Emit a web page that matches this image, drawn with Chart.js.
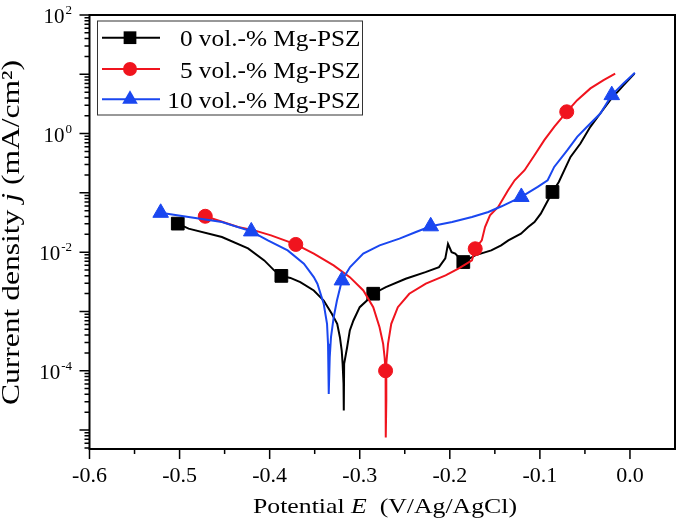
<!DOCTYPE html>
<html>
<head>
<meta charset="utf-8">
<script src="https://cdn.jsdelivr.net/npm/chart.js@4.4.0/dist/chart.umd.min.js"></script>
<style>
  html, body { margin: 0; padding: 0; background: #fff; }
</style>
</head>
<body>
<canvas id="tafelChart" width="685" height="523"></canvas>
<script>
// potential E (V vs Ag/AgCl) and current density j (mA/cm2)
var e0 = [-0.502, -0.490, -0.453, -0.424, -0.406, -0.395, -0.387, -0.377, -0.366, -0.351, -0.340, -0.331, -0.325, -0.322, -0.320, -0.319, -0.318, -0.3177, -0.3173, -0.314, -0.311, -0.307, -0.300, -0.292, -0.285, -0.271, -0.249, -0.227, -0.212, -0.205, -0.202, -0.198, -0.194, -0.185, -0.172, -0.154, -0.143, -0.135, -0.121, -0.113, -0.106, -0.099, -0.091, -0.086, -0.079, -0.066, -0.055, -0.044, -0.033, -0.022, -0.007, 0.005];
var j0 = [0.0303, 0.0249, 0.0180, 0.0116, 0.00726, 0.00493, 0.00398, 0.00368, 0.00313, 0.00226, 0.00153, 0.000914, 0.00062, 0.000368, 0.000219, 0.000132, 0.000061, 0.0000213, 0.000131, 0.000249, 0.000478, 0.000705, 0.00118, 0.00153, 0.00199, 0.00257, 0.00356, 0.00461, 0.0056, 0.00785, 0.0138, 0.0100, 0.00944, 0.00681, 0.00883, 0.0107, 0.0130, 0.0158, 0.0205, 0.0265, 0.0322, 0.0447, 0.075, 0.1035, 0.153, 0.404, 0.68, 1.30, 2.18, 3.66, 6.57, 10.3];
var marks0 = [0, 6, 24, 33, 43];

var e5 = [-0.4715, -0.435, -0.417, -0.3985, -0.371, -0.351, -0.329, -0.311, -0.296, -0.285, -0.278, -0.274, -0.2724, -0.2713, -0.2711, -0.2711, -0.2705, -0.2705, -0.2686, -0.265, -0.2577, -0.245, -0.2266, -0.2047, -0.190, -0.1754, -0.1718, -0.1645, -0.1609, -0.1554, -0.1463, -0.1353, -0.128, -0.117, -0.106, -0.0951, -0.0841, -0.0702, -0.0586, -0.0439, -0.0293, -0.0164];
var j5 = [0.0403, 0.0265, 0.0233, 0.0192, 0.0135, 0.00944, 0.00598, 0.00379, 0.00226, 0.00118, 0.000543, 0.000284, 0.000169, 0.0001, 0.0000314, 0.00000745, 0.0000314, 0.000131, 0.000284, 0.00062, 0.00118, 0.00199, 0.00294, 0.00406, 0.00532, 0.00726, 0.0114, 0.0158, 0.0265, 0.0419, 0.0578, 0.111, 0.163, 0.241, 0.431, 0.774, 1.30, 2.33, 3.66, 5.78, 7.98, 10.3];
var marks5 = [0, 4, 13, 26, 37];

var e10 = [-0.521, -0.490, -0.453, -0.4204, -0.402, -0.380, -0.362, -0.351, -0.347, -0.340, -0.3363, -0.3352, -0.3344, -0.3344, -0.3333, -0.3319, -0.3289, -0.3253, -0.3198, -0.3107, -0.2961, -0.2779, -0.2559, -0.2376, -0.2212, -0.1974, -0.1754, -0.1572, -0.1425, -0.1206, -0.1024, -0.0914, -0.0841, -0.0695, -0.0586, -0.0476, -0.0329, -0.0202, -0.0073, 0.0055];
var j10 = [0.0461, 0.0392, 0.0322, 0.0224, 0.0158, 0.0107, 0.0064, 0.00379, 0.00294, 0.00135, 0.00062, 0.000284, 0.000131, 0.0000407, 0.000169, 0.000368, 0.0008, 0.00153, 0.00334, 0.0056, 0.00944, 0.013, 0.0169, 0.0219, 0.0273, 0.0322, 0.0392, 0.0476, 0.0594, 0.0853, 0.126, 0.163, 0.274, 0.525, 0.879, 1.30, 2.18, 4.45, 7.02, 10.6];
var marks10 = [0, 3, 18, 24, 29, 37];

var seriesNames = ['0 vol.-% Mg-PSZ', '5 vol.-% Mg-PSZ', '10 vol.-% Mg-PSZ'];
var xTicks = [-0.6, -0.5, -0.4, -0.3, -0.2, -0.1, 0.0];
var yLabelExps = [2, 0, -2, -4];

var serif = "'Liberation Serif'";

function pts(es, js) {
    return es.map(function (e, i) { return { x: e, y: js[i] }; });
}

function markRadius(marks, r) {
    return function (ctx) { return marks.indexOf(ctx.dataIndex) >= 0 ? r : 0; };
}

function makeSet(label, es, js, marks, color, style, r, order) {
    return {
        label: label,
        data: pts(es, js),
        borderColor: color,
        backgroundColor: color,
        borderWidth: 2,
        tension: 0,
        pointStyle: style,
        pointRadius: markRadius(marks, r),
        pointBackgroundColor: color,
        pointBorderColor: color,
        pointBorderWidth: 1,
        order: order
    };
}

// draws mixed normal/italic text, stretched to a given width
function richText(ctx, parts, size, width) {
    var total = 0;
    parts.forEach(function (p) {
        ctx.font = (p[1] ? 'italic ' : '') + size + 'px ' + serif;
        total += ctx.measureText(p[0]).width;
    });
    ctx.scale(width / total, 1);
    var x = 0;
    parts.forEach(function (p) {
        ctx.font = (p[1] ? 'italic ' : '') + size + 'px ' + serif;
        ctx.fillText(p[0], x, 0);
        x += ctx.measureText(p[0]).width;
    });
}

var framePlugin = {
    id: 'frame',
    afterDraw: function (chart) {
        var ctx = chart.ctx, a = chart.chartArea;
        var xs = chart.scales.x, ys = chart.scales.y;
        ctx.save();

        // box
        ctx.strokeStyle = '#000';
        ctx.lineWidth = 2;
        ctx.strokeRect(a.left, a.top, a.right - a.left, a.bottom - a.top);

        // tick marks
        ctx.lineWidth = 1.5;
        ctx.beginPath();
        xTicks.forEach(function (v) {
            var px = xs.getPixelForValue(v);
            ctx.moveTo(px, a.bottom); ctx.lineTo(px, a.bottom + 10);
            var pm = xs.getPixelForValue(v + 0.05);
            if (pm < a.right - 2) { ctx.moveTo(pm, a.bottom); ctx.lineTo(pm, a.bottom + 5); }
        });
        for (var d = -6; d <= 2; d++) {
            for (var k = 1; k < 10; k++) {
                var v = k * Math.pow(10, d);
                if (v < ys.min || v > ys.max) continue;
                var py = ys.getPixelForValue(v);
                ctx.moveTo(a.left, py); ctx.lineTo(a.left - (k === 1 ? 10 : 5), py);
            }
        }
        ctx.stroke();

        // y labels 10^n
        ctx.fillStyle = '#000';
        ctx.textBaseline = 'alphabetic';
        ctx.textAlign = 'left';
        yLabelExps.forEach(function (p) {
            var py = ys.getPixelForValue(Math.pow(10, p));
            var sup = String(p);
            ctx.font = '21px ' + serif;
            var wb = ctx.measureText('10').width;
            ctx.font = '13px ' + serif;
            var ws = ctx.measureText(sup).width;
            var x0 = 72 - ws - 1 - wb;
            ctx.font = '21px ' + serif;
            ctx.fillText('10', x0, py + 8);
            ctx.font = '13px ' + serif;
            ctx.fillText(sup, x0 + wb + 1, py - 1);
        });

        // axis titles
        ctx.save();
        ctx.translate(253, 513);
        richText(ctx, [['Potential ', false], ['E', true], ['  (V/Ag/AgCl)', false]], 22, 264);
        ctx.restore();

        ctx.save();
        ctx.translate(19, 405);
        ctx.rotate(-Math.PI / 2);
        richText(ctx, [['Current density ', false], ['j', true], [' (mA/cm\u00B2)', false]], 25, 345);
        ctx.restore();

        // legend
        ctx.fillStyle = '#fff';
        ctx.fillRect(97.5, 21, 265, 94);
        ctx.strokeStyle = '#333';
        ctx.lineWidth = 1;
        ctx.strokeRect(97.5, 21, 265, 94);
        var rows = [37.7, 69, 99.3];
        chart.data.datasets.forEach(function (ds, i) {
            var y = rows[i];
            ctx.strokeStyle = ds.borderColor;
            ctx.lineWidth = 2;
            ctx.beginPath();
            ctx.moveTo(102, y); ctx.lineTo(160, y);
            ctx.stroke();
            ctx.fillStyle = ds.borderColor;
            var r = ds.pointStyle === 'circle' ? 7 : 9;
            Chart.helpers.drawPoint(ctx, { pointStyle: ds.pointStyle, radius: r, rotation: 0, borderWidth: 0 }, 130, y);
            ctx.save();
            ctx.fillStyle = '#000';
            ctx.translate(360.5, y + 8.5);
            ctx.scale(1.1, 1);
            ctx.font = '23px ' + serif;
            ctx.textAlign = 'right';
            ctx.fillText(ds.label, 0, 0);
            ctx.restore();
        });

        ctx.restore();
    }
};

var chartData = {
    datasets: [
        makeSet(seriesNames[0], e0, j0, marks0, '#000000', 'rect', 9, 3),
        makeSet(seriesNames[1], e5, j5, marks5, '#f0141e', 'circle', 7, 2),
        makeSet(seriesNames[2], e10, j10, marks10, '#1a47f0', 'triangle', 9, 1)
    ]
};

var chartOptions = {
    responsive: false,
    animation: false,
    events: [],
    layout: { padding: { top: 15, right: 3, left: 0, bottom: 0 } },
    plugins: {
        legend: { display: false },
        tooltip: { enabled: false }
    },
    scales: {
        x: {
            type: 'linear',
            min: -0.6,
            max: 0.05,
            grid: { display: false, drawTicks: false },
            border: { display: false },
            afterBuildTicks: function (scale) {
                scale.ticks = xTicks.map(function (v) { return { value: v }; });
            },
            ticks: {
                color: '#000',
                padding: 14,
                maxRotation: 0,
                autoSkip: false,
                font: { family: serif, size: 22 },
                callback: function (v) { return v.toFixed(1); }
            },
            afterFit: function (scale) { scale.height = 74; }
        },
        y: {
            type: 'logarithmic',
            min: Math.pow(10, -5.32),
            max: 100,
            grid: { display: false, drawTicks: false },
            border: { display: false },
            ticks: { display: false },
            afterFit: function (scale) { scale.width = 89.5; }
        }
    }
};

var tafelChart = new Chart(document.getElementById('tafelChart').getContext('2d'), {
    type: 'line',
    data: chartData,
    options: chartOptions,
    plugins: [framePlugin]
});
</script>
</body>
</html>
